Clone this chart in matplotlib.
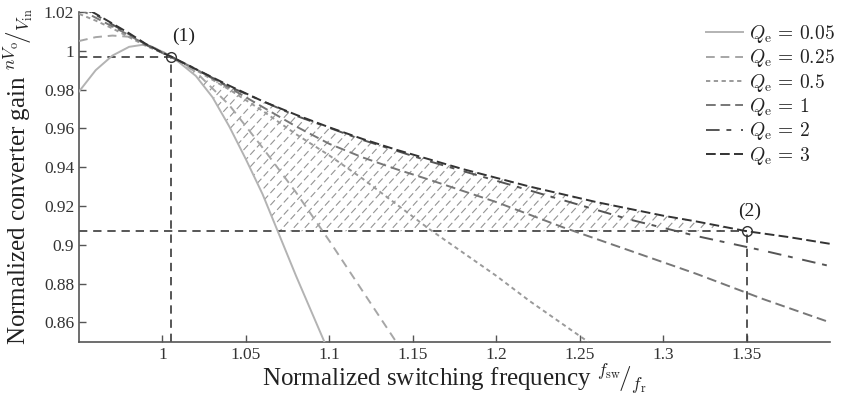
import numpy as np
import matplotlib
matplotlib.use("Agg")
import matplotlib.pyplot as plt
from matplotlib.path import Path

plt.rcParams["font.family"] = ["Liberation Serif", "DejaVu Serif"]
plt.rcParams["mathtext.fontset"] = "cm"

# normalized gain curves
x005 = [0.95, 0.96, 0.97, 0.98, 0.99, 1.00, 1.005, 1.01, 1.02, 1.03, 1.04, 1.05, 1.06, 1.07, 1.08, 1.09, 1.097]
y005 = [0.979, 0.990, 0.9975, 1.002, 1.0033, 0.9995, 0.997, 0.994, 0.987, 0.976, 0.961, 0.944, 0.926, 0.905, 0.884, 0.864, 0.850]

x025 = [0.95, 0.96, 0.97, 0.98, 0.99, 1.00, 1.005, 1.02, 1.04, 1.06, 1.08, 1.10, 1.12, 1.14]
y025 = [1.005, 1.007, 1.0078, 1.0072, 1.0035, 0.9995, 0.997, 0.989, 0.972, 0.950, 0.927, 0.902, 0.876, 0.850]

x05 = [0.95, 0.96, 0.97, 0.98, 0.99, 1.00, 1.005, 1.02, 1.04, 1.06, 1.08, 1.10, 1.12, 1.14, 1.16, 1.18, 1.20, 1.22, 1.24, 1.255]
y05 = [1.019, 1.0155, 1.0115, 1.007, 1.0025, 0.999, 0.997, 0.990, 0.980, 0.969, 0.957, 0.946, 0.934, 0.921, 0.908, 0.896, 0.884, 0.871, 0.859, 0.850]

x1 = [0.95, 0.96, 0.97, 0.98, 0.99, 1.00, 1.005, 1.02, 1.04, 1.06, 1.08, 1.10, 1.12, 1.14, 1.16, 1.20, 1.24, 1.28, 1.32, 1.36, 1.40]
y1 = [1.0215, 1.017, 1.0125, 1.008, 1.003, 0.9988, 0.997, 0.9905, 0.981, 0.971, 0.961, 0.952, 0.945, 0.939, 0.9335, 0.922, 0.909, 0.897, 0.885, 0.872, 0.860]

x2 = [0.95, 0.96, 0.97, 0.98, 0.99, 1.00, 1.005, 1.02, 1.04, 1.08, 1.12, 1.16, 1.20, 1.24, 1.28, 1.32, 1.36, 1.40]
y2 = [1.023, 1.0185, 1.0135, 1.0085, 1.0033, 0.999, 0.997, 0.9905, 0.9815, 0.9665, 0.954, 0.943, 0.933, 0.923, 0.913, 0.9045, 0.897, 0.889]

x3 = [0.95, 0.96, 0.97, 0.98, 0.99, 1.00, 1.005, 1.02, 1.04, 1.06, 1.08, 1.10, 1.12, 1.14, 1.16, 1.18, 1.20, 1.22, 1.24, 1.26, 1.28, 1.30, 1.32, 1.35, 1.375, 1.40]
y3 = [1.0237, 1.019, 1.014, 1.009, 1.0035, 0.999, 0.997, 0.9905, 0.982, 0.974, 0.967, 0.9605, 0.9545, 0.949, 0.944, 0.939, 0.9345, 0.930, 0.926, 0.922, 0.9185, 0.915, 0.912, 0.907, 0.904, 0.9005]

labels = ["0.05", "0.25", "0.5", "1", "2", "3"]

# operating points (1) and (2)
p1 = (1.005, 0.997)
p2 = (1.35, 0.907)

xticks = [1.0, 1.05, 1.1, 1.15, 1.2, 1.25, 1.3, 1.35]
xticklabels = ["1", "1.05", "1.1", "1.15", "1.2", "1.25", "1.3", "1.35"]
yticks = [0.86, 0.88, 0.90, 0.92, 0.94, 0.96, 0.98, 1.00, 1.02]
yticklabels = ["0.86", "0.88", "0.9", "0.92", "0.94", "0.96", "0.98", "1", "1.02"]

xlim = (0.95, 1.40)
ylim = (0.85, 1.02)

fig = plt.figure(figsize=(8.41, 3.97), dpi=100)
ax = fig.add_axes([0.094, 0.139, 0.893, 0.831])
ax.set_xlim(*xlim)
ax.set_ylim(*ylim)

# hatched area between (1), (2), the Qe=3 curve and the Qe=0.05 curve
xa = np.array(x3)
ya = np.array(y3)
keep = (xa >= p1[0]) & (xa <= p2[0])
xb = np.array(x005)
yb = np.array(y005)
down = xb >= p1[0]
xb = xb[down]
yb = yb[down]
xc = np.interp(p2[1], yb[::-1], xb[::-1])
above = yb > p2[1]
verts = list(zip(xa[keep], ya[keep]))
verts += [(p2[0], p2[1]), (xc, p2[1])]
verts += list(zip(xb[above][::-1], yb[above][::-1]))
verts.append(verts[0])
clip = Path(verts, closed=True)

W = ax.bbox.width
H = ax.bbox.height
sx = W / (xlim[1] - xlim[0])
sy = H / (ylim[1] - ylim[0])
slope = sx / sy * 1.1
step = 11.0 / sx
hx = np.array([0.98, 1.37])
for c in np.arange(0.80, 1.37, step):
    ln, = ax.plot(hx, p2[1] + slope * (hx - c), color="#949494", lw=0.8,
                  dashes=(6, 3), zorder=1)
    ln.set_clip_path(clip, ax.transData)

styles = [
    dict(color="#b3b3b3", ls="-"),
    dict(color="#a6a6a6", dashes=(4.5, 3)),
    dict(color="#9a9a9a", dashes=(2.2, 1.8)),
    dict(color="#777777", dashes=(5, 2.5)),
    dict(color="#555555", dashes=(7, 3.5, 2.5, 5)),
    dict(color="#333333", dashes=(5, 2.2)),
]
curves = [(x005, y005), (x025, y025), (x05, y05), (x1, y1), (x2, y2), (x3, y3)]
for (xs, ys), lab, st in zip(curves, labels, styles):
    ax.plot(xs, ys, lw=1.4, label=r"$Q_{\rm e}\,=\,%s$" % lab, zorder=3, **st)

# guide lines to the two operating points
gd = dict(color="#3a3a3a", lw=1.2, dashes=(5, 3.5), zorder=2)
ax.plot([xlim[0], p1[0]], [p1[1], p1[1]], **gd)
ax.plot([p1[0], p1[0]], [ylim[0], p1[1]], **gd)
ax.plot([xlim[0], p2[0]], [p2[1], p2[1]], **gd)
ax.plot([p2[0], p2[0]], [ylim[0], p2[1]], **gd)
ax.plot([p1[0], p2[0]], [p1[1], p2[1]], ls="none", marker="o", ms=7,
        mfc="none", mec="#333333", mew=1.0, zorder=4)
ax.annotate("(1)", p1, xytext=(9, 8), textcoords="offset points",
            ha="center", va="bottom", fontsize=14, color="#222222")
ax.annotate("(2)", p2, xytext=(2, 8), textcoords="offset points",
            ha="center", va="bottom", fontsize=14, color="#222222")

ax.set_xticks(xticks)
ax.set_xticklabels(xticklabels)
ax.set_yticks(yticks)
ax.set_yticklabels(yticklabels)
ax.tick_params(direction="in", length=5, width=1, colors="#555555",
               labelcolor="#333333", labelsize=12.5)
for s in ["top", "right"]:
    ax.spines[s].set_visible(False)
for s in ["left", "bottom"]:
    ax.spines[s].set_color("#555555")
    ax.spines[s].set_linewidth(1.2)

ax.set_xlabel(r"Normalized switching frequency ${}^{f_{\rm sw}}\!/{}_{f_{\rm r}}$",
              fontsize=18, color="#222222", labelpad=-1)
ax.set_ylabel(r"Normalized converter gain ${}^{nV_{\rm o}}\!/{}_{V_{\rm in}}$",
              fontsize=18, color="#222222", labelpad=6)

leg = ax.legend(loc="upper right", bbox_to_anchor=(1.017, 0.99), frameon=False,
                fontsize=14, handlelength=1.9, handletextpad=0.3,
                labelspacing=0.12, borderaxespad=0.0)
for t in leg.get_texts():
    t.set_color("#222222")

fig.savefig("out.png", dpi=100)
